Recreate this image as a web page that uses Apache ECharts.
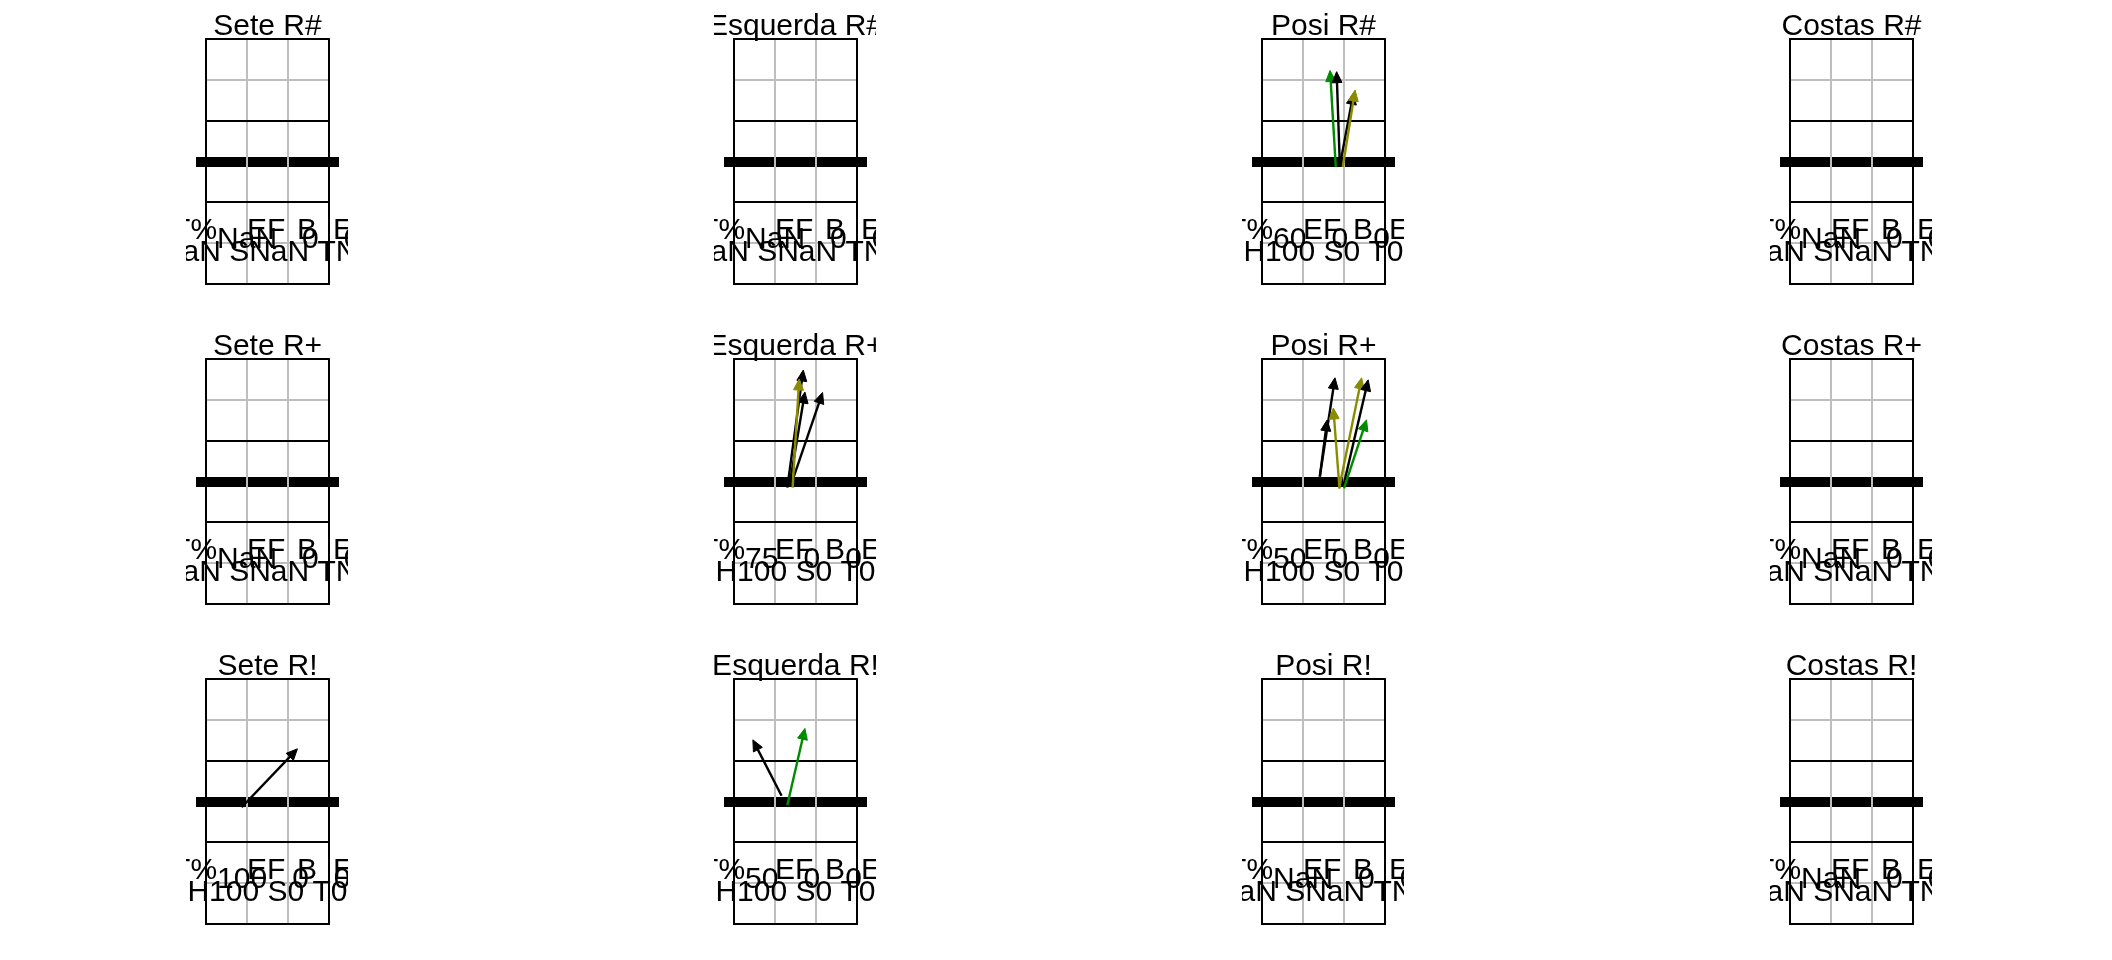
<!DOCTYPE html>
<html><head><meta charset="utf-8">
<script src="https://cdn.jsdelivr.net/npm/echarts@6/dist/echarts.min.js"></script>
<style>html,body{margin:0;padding:0;background:#fff}#c{width:2112px;height:960px}</style>
</head><body><div id="c"></div>
<script>
// ---------- data ----------
const zones = ['Sete', 'Esquerda', 'Posi', 'Costas'];
const receptions = ['R#', 'R+', 'R!'];
const statLabels = ['T%', 'EF', 'B', 'E'];
// rows = receptions, columns = zones
const tPct   = [[NaN, NaN, 60, NaN], [NaN, 75, 50, NaN], [100, 50, NaN, NaN]];
const efCount = [[0, 0, 0, 0], [0, 0, 0, 0], [0, 0, 0, 0]];
const bCount  = [[0, 0, 0, 0], [0, 0, 0, 0], [0, 0, 0, 0]];
const eCount  = [[0, 0, 0, 0], [0, 0, 0, 0], [0, 0, 0, 0]];
const hValues = [[NaN, NaN, 100, NaN], [NaN, 100, 100, NaN], [100, 100, NaN, NaN]];
const sValues = [[NaN, NaN, 0, NaN], [NaN, 0, 0, NaN], [0, 0, NaN, NaN]];
const tValues = [[NaN, NaN, 0, NaN], [NaN, 0, 0, NaN], [0, 0, NaN, NaN]];

const BLACK = 0, OLIVE = 1, GREEN = 2;
const arrowColors = ['#000000', '#8B8B00', '#008B00'];
// [x0, y0, x1, y1, colour] in court units (3 wide x 6 deep, net at 3)
const arrowsPosiSharp = [
  [1.80, 2.87, 1.66, 5.23, GREEN],
  [1.90, 2.87, 1.82, 5.20, BLACK],
  [1.90, 2.91, 2.23, 4.67, BLACK],
  [1.97, 2.87, 2.27, 4.75, OLIVE]
];
const arrowsEsquerdaPlus = [
  [1.30, 2.85, 1.69, 5.73, BLACK],
  [1.36, 2.95, 1.73, 5.19, BLACK],
  [1.40, 2.95, 2.16, 5.18, BLACK],
  [1.43, 2.85, 1.59, 5.51, OLIVE]
];
const arrowsPosiPlus = [
  [1.41, 3.12, 1.78, 5.54, BLACK],
  [1.41, 3.12, 1.59, 4.51, BLACK],
  [1.89, 2.83, 1.74, 4.80, OLIVE],
  [1.88, 2.83, 2.43, 5.54, OLIVE],
  [1.98, 2.87, 2.59, 5.49, BLACK],
  [2.00, 2.83, 2.55, 4.51, GREEN]
];
const arrowsSeteExcl = [[0.87, 2.86, 2.23, 4.29, BLACK]];
const arrowsEsquerdaExcl = [
  [1.16, 3.14, 0.46, 4.51, BLACK],
  [1.30, 2.91, 1.73, 4.79, GREEN]
];
const arrowSets = [
  [[], [], arrowsPosiSharp, []],
  [[], arrowsEsquerdaPlus, arrowsPosiPlus, []],
  [arrowsSeteExcl, arrowsEsquerdaExcl, [], []]
];

// ---------- court geometry (styling) ----------
const grayX = [1, 2], grayY = [1, 5], attackY = [2, 4], netY = 3;
const FONT = '"Liberation Sans", Arial, sans-serif';
const FS = 30;
const UX = 41, UY = 40.83;
const X_MIN = -0.48, X_MAX = 3.44, Y_MIN = -0.4, Y_MAX = 6.9;

function courtRender(params, api) {
  const p = (x, y) => { const q = api.coord([x, y]); return [Math.round(q[0]), Math.round(q[1])]; };
  const seg = (a, b, color, w) => ({
    type: 'line', shape: { x1: a[0], y1: a[1], x2: b[0], y2: b[1] },
    style: { stroke: color, lineWidth: w, lineCap: 'butt' }
  });
  const ch = [];
  ch.push(seg(p(-0.25, netY), p(3.25, netY), '#000', 10));
  grayX.forEach(x => ch.push(seg(p(x, 0), p(x, 6), '#BEBEBE', 2)));
  grayY.forEach(y => ch.push(seg(p(0, y), p(3, y), '#BEBEBE', 2)));
  attackY.forEach(y => ch.push(seg(p(0, y), p(3, y), '#000', 2)));
  const tl = p(0, 6), br = p(3, 0);
  ch.push({ type: 'rect', shape: { x: tl[0], y: tl[1], width: br[0] - tl[0], height: br[1] - tl[1] },
    style: { fill: 'none', stroke: '#000', lineWidth: 2 } });
  return { type: 'group', children: ch };
}

function arrowRender(params, api) {
  const a = api.coord([api.value(0), api.value(1)]);
  const b = api.coord([api.value(2), api.value(3)]);
  const color = arrowColors[api.value(4)];
  const dx = b[0] - a[0], dy = b[1] - a[1], len = Math.hypot(dx, dy);
  const ux = dx / len, uy = dy / len, hl = 11, hw = 5;
  const bx = b[0] - ux * hl, by = b[1] - uy * hl;
  return { type: 'group', children: [
    { type: 'line', shape: { x1: a[0], y1: a[1], x2: bx + ux * 2, y2: by + uy * 2 }, style: { stroke: color, lineWidth: 2.4 } },
    { type: 'polygon', shape: { points: [[b[0], b[1]], [bx - uy * hw, by + ux * hw], [bx + uy * hw, by - ux * hw]] },
      style: { fill: color, stroke: color, lineWidth: 1 } }
  ]};
}

const grids = [], xAxes = [], yAxes = [], series = [];
receptions.forEach((rec, r) => {
  zones.forEach((zone, c) => {
    const idx = r * 4 + c;
    const courtLeft = 206 + 528 * c;
    const courtBottom = 284 + 320 * r;
    grids.push({
      left: courtLeft + X_MIN * UX, width: (X_MAX - X_MIN) * UX,
      top: courtBottom - Y_MAX * UY, height: (Y_MAX - Y_MIN) * UY
    });
    xAxes.push({ type: 'value', gridIndex: idx, min: X_MIN, max: X_MAX, show: false });
    yAxes.push({ type: 'value', gridIndex: idx, min: Y_MIN, max: Y_MAX, show: false });

    series.push({ type: 'custom', xAxisIndex: idx, yAxisIndex: idx, z: 1, clip: true,
      data: [[0, 0]], renderItem: courtRender, silent: true });

    series.push({ type: 'custom', xAxisIndex: idx, yAxisIndex: idx, z: 2, clip: true,
      encode: { x: [0, 2], y: [1, 3] },
      data: arrowSets[r][c], renderItem: arrowRender, silent: true });

    const vals = [tPct[r][c], efCount[r][c], bCount[r][c], eCount[r][c]].map(String).join('   ');
    const row2 = 'H' + hValues[r][c] + ' S' + sValues[r][c] + ' T' + tValues[r][c];
    const texts = [
      { x: 1.5, y: 6.31, text: zone + ' ' + rec, align: 'center' },
      { x: 0.27, y: 1.30, text: statLabels[0], align: 'right' },
      { x: 1.0, y: 1.30, text: statLabels[1], align: 'left' },
      { x: 2.22, y: 1.30, text: statLabels[2], align: 'left' },
      { x: 3.1, y: 1.30, text: statLabels[3], align: 'left' },
      { x: 0.27, y: 1.08, text: vals, align: 'left' },
      { x: 1.5, y: 0.76, text: row2, align: 'center' }
    ];
    series.push({ type: 'custom', xAxisIndex: idx, yAxisIndex: idx, z: 3, clip: true, silent: true,
      data: texts.map(t => [t.x, t.y]),
      renderItem: (params, api) => {
        const t = texts[params.dataIndex];
        const pt = api.coord([api.value(0), api.value(1)]);
        return { type: 'text', x: pt[0], y: pt[1],
          style: { text: t.text, fill: '#000', fontSize: FS, fontFamily: FONT,
                   align: t.align, verticalAlign: 'middle' } };
      }
    });
  });
});

const chart = echarts.init(document.getElementById('c'), null, { renderer: 'canvas' });
chart.setOption({
  animation: false,
  backgroundColor: '#ffffff',
  grid: grids, xAxis: xAxes, yAxis: yAxes, series: series
});
</script></body></html>
